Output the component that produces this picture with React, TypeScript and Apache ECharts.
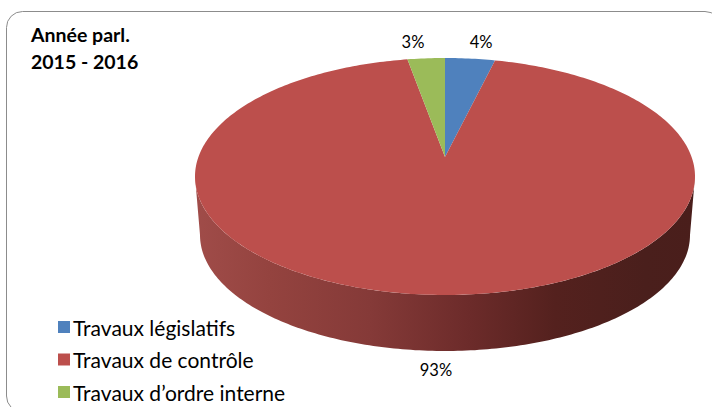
import React, { useEffect, useRef } from "react";
import * as echarts from "echarts";

const categories = ["Travaux législatifs", "Travaux de contrôle", "Travaux d’ordre interne"];
const values = [4, 93, 3];
const percentLabels = ["4%", "93%", "3%"];
const colors = ["#4F81BD", "#BC4F4C", "#9BBB59"];
const titleLines = ["Année parl.", "2015 - 2016"];

// Layout of the tilted pie
const CX = 445, CY = 176.5, RX = 250, RY = 118.5;
const APEX_Y = 157;
const BOTTOM_CY = 235, BOTTOM_RX = 245, BOTTOM_RY = 116;
const PERSPECTIVE = 0.8;
const LABEL_FX = [1.15, 1.15, 1.36];
const LABEL_FY = 1.14;
const DEPTH_SHIFT = 58;

const total = values.reduce((a, b) => a + b, 0);

// Projective map: back of the pie is compressed, front enlarged.
function project(theta: number) {
  const turn = Math.round(theta / (2 * Math.PI));
  const t = theta - turn * 2 * Math.PI;
  return 2 * Math.atan(PERSPECTIVE * Math.tan(t / 2)) + turn * 2 * Math.PI;
}

function rim(theta: number): [number, number] {
  const p = project(theta);
  return [CX + RX * Math.sin(p), CY - RY * Math.cos(p)];
}

function sliceRange(i: number) {
  const before = values.slice(0, i).reduce((a, b) => a + b, 0);
  return [(before / total) * 2 * Math.PI, ((before + values[i]) / total) * 2 * Math.PI];
}

function wallElement() {
  const pts: [number, number][] = [];
  for (let d = 90; d <= 270; d += 1) {
    const a = (d * Math.PI) / 180;
    pts.push([CX + RX * Math.sin(a), CY - RY * Math.cos(a)]);
  }
  for (let d = 270; d >= 90; d -= 1) {
    const a = (d * Math.PI) / 180;
    pts.push([CX + BOTTOM_RX * Math.sin(a), BOTTOM_CY - BOTTOM_RY * Math.cos(a)]);
  }
  return {
    type: "polygon",
    shape: { points: pts },
    style: {
      fill: new echarts.graphic.LinearGradient(0, 0, 1, 0, [
        { offset: 0, color: "#a04c49" },
        { offset: 0.15, color: "#94433f" },
        { offset: 0.35, color: "#853a38" },
        { offset: 0.55, color: "#6c2b2a" },
        { offset: 0.72, color: "#54211e" },
        { offset: 0.9, color: "#4a1f1c" },
        { offset: 1, color: "#4a1e1b" },
      ]),
    },
  };
}

function makeRenderItem(i: number) {
  return () => {
    const [s, e] = sliceRange(i);
    const pts: [number, number][] = [[CX, APEX_Y]];
    const steps = Math.max(4, Math.ceil(((e - s) * 180) / Math.PI));
    for (let k = 0; k <= steps; k++) pts.push(rim(s + ((e - s) * k) / steps));
    const mid = (s + e) / 2;
    const cos = Math.cos(mid);
    const lx = CX + RX * LABEL_FX[i] * Math.sin(mid);
    const ly = CY - RY * LABEL_FY * cos + (cos < 0 ? DEPTH_SHIFT : 0);
    const children: any[] = [];
    if (values[i] > total / 2) children.push(wallElement());
    children.push({ type: "polygon", shape: { points: pts }, style: { fill: colors[i] } });
    children.push({
      type: "text",
      style: {
        text: percentLabels[i],
        x: lx,
        y: ly,
        align: "center",
        verticalAlign: "middle",
        fill: "#000",
        font: "16.5px Lato",
      },
    });
    return { type: "group", children };
  };
}

export default function App() {
  const ref = useRef<HTMLDivElement>(null);
  useEffect(() => {
    const chart = echarts.init(ref.current!, null, { renderer: "svg" });
    chart.setOption({
      animation: false,
      backgroundColor: "#fff",
      title: {
        text: titleLines.join("\n"),
        left: 31,
        top: 21,
        padding: 0,
        textStyle: {
          fontFamily: "Lato",
          fontWeight: "bold",
          fontSize: 19.5,
          lineHeight: 27,
          color: "#000",
        },
      },
      legend: {
        orient: "vertical",
        left: 58,
        top: 316.5,
        height: 88,
        padding: 0,
        itemWidth: 12,
        itemHeight: 12,
        itemGap: 11.5,
        icon: "rect",
        selectedMode: false,
        textStyle: { fontFamily: "Lato", fontSize: 21, lineHeight: 20, color: "#000", padding: [0, 0, 0, -2] },
        data: categories,
      },
      graphic: [
        {
          type: "rect",
          z: -1,
          shape: { x: 6.5, y: 11.5, width: 714.5, height: 400.5, r: 16 },
          style: { fill: "#fff", stroke: "#8c8c8c", lineWidth: 1 },
        },
      ],
      series: categories.map((name, i) => ({
        type: "custom",
        name,
        coordinateSystem: "none",
        silent: true,
        itemStyle: { color: colors[i] },
        data: [values[i]],
        renderItem: makeRenderItem(i),
      })),
    });
    return () => chart.dispose();
  }, []);
  return <div ref={ref} style={{ position: "absolute", left: 0, top: 0, width: 712, height: 407 }} />;
}
